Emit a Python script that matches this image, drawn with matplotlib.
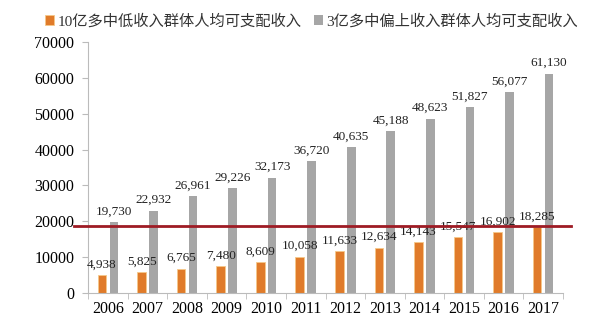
import matplotlib
matplotlib.use('Agg')
import matplotlib.pyplot as plt
import numpy as np

years = ['2006', '2007', '2008', '2009', '2010', '2011', '2012', '2013', '2014', '2015', '2016', '2017']
low_income = [4938, 5825, 6765, 7480, 8609, 10058, 11633, 12634, 14143, 15547, 16902, 18285]
high_income = [19730, 22932, 26961, 29226, 32173, 36720, 40635, 45188, 48623, 51827, 56077, 61130]
names = ['10亿多中低收入群体人均可支配收入', '3亿多中偏上收入群体人均可支配收入']
ref_level = 18800

serif = ['Liberation Serif', 'DejaVu Serif']
cjk = ['Liberation Serif', 'Noto Sans CJK SC', 'DejaVu Sans']

fig = plt.figure(figsize=(6, 3.31), dpi=100)
ax = fig.add_axes([0.147, 0.115, 0.791, 0.758])

x = np.arange(len(years))
w = 0.22
off = 0.15
b1 = ax.bar(x - off, low_income, w, color='#E07B2A', edgecolor='#F5C98A', linewidth=0.6, label=names[0])
b2 = ax.bar(x + off, high_income, w, color='#A6A6A6', label=names[1])

for xi, v in zip(x, low_income):
    ax.text(xi - off, v + 1300, f'{v:,}', ha='center', va='bottom', fontsize=9.5, family=serif, color='#222222')
for xi, v in zip(x, high_income):
    ax.text(xi + off, v + 1300, f'{v:,}', ha='center', va='bottom', fontsize=9.5, family=serif, color='#222222')

ax.set_xlim(-0.5, len(years) - 0.5)
ax.set_ylim(0, 70000)
ax.set_yticks(np.arange(0, 70001, 10000))
ax.set_yticklabels([str(t) for t in range(0, 70001, 10000)], family=serif, fontsize=11.5)
ax.set_xticks(x)
ax.set_xticklabels(years, family=serif, fontsize=11.5)
ax.set_xticks(np.arange(-0.5, len(years), 1), minor=True)
ax.tick_params(axis='x', which='major', length=0, pad=6)
ax.tick_params(axis='x', which='minor', length=4, color='#BBBBBB')
ax.tick_params(axis='y', length=4, color='#BBBBBB', pad=6)

for s in ['top', 'right']:
    ax.spines[s].set_visible(False)
ax.spines['left'].set_color('#BBBBBB')
ax.spines['bottom'].set_color('#BBBBBB')

# red reference line, runs a bit past the axes
ax.plot([-0.85, 11.7], [ref_level, ref_level], color='#9E1B24', linewidth=2, clip_on=False, zorder=5)

leg = fig.legend(handles=[b1, b2], loc='upper left', bbox_to_anchor=(0.06, 0.985), ncol=2,
                 frameon=False, prop={'family': cjk, 'size': 11}, handlelength=0.6, handleheight=0.6,
                 handletextpad=0.2, columnspacing=0.8, borderaxespad=0.2)
for t in leg.get_texts():
    t.set_color('#333333')

fig.savefig('out.png', dpi=100)
